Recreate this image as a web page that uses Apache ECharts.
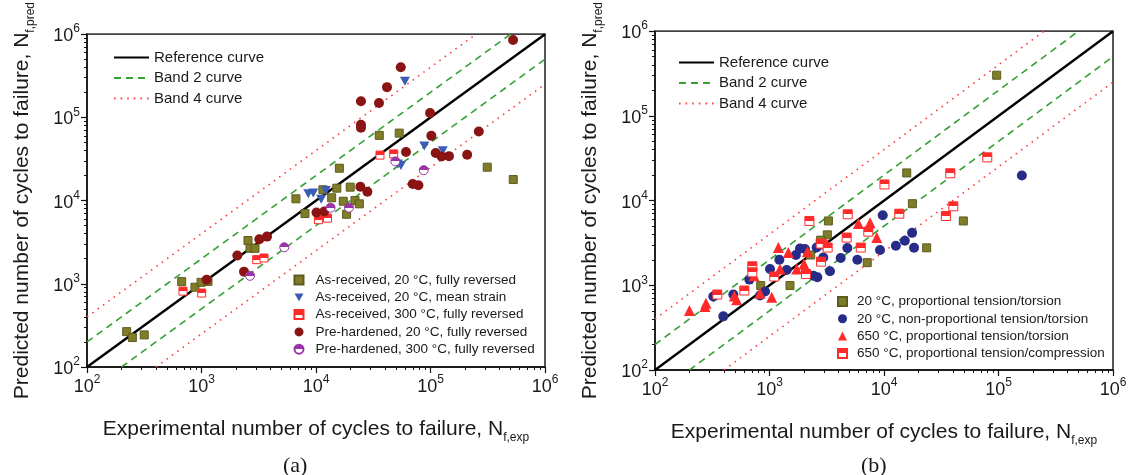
<!DOCTYPE html>
<html><head><meta charset="utf-8">
<script src="https://cdn.jsdelivr.net/npm/echarts@6/dist/echarts.min.js"></script>
<style>html,body{margin:0;padding:0;background:#fff}#c{width:1133px;height:475px}</style>
</head><body><div id="c"></div>
<script>
// ---------- data ----------
const majorTicks = [1e2, 1e3, 1e4, 1e5, 1e6];
const minorTicks = [200,300,400,500,600,700,800,900,2000,3000,4000,5000,6000,7000,8000,9000,20000,30000,40000,50000,60000,70000,80000,90000,200000,300000,400000,500000,600000,700000,800000,900000];

const refCurve = [[1e2, 1e2], [1e6, 1e6]];
const band2Upper = [[1e2, 2e2], [5e5, 1e6]];
const band2Lower = [[2e2, 1e2], [1e6, 5e5]];
const band4Upper = [[1e2, 4e2], [2.5e5, 1e6]];
const band4Lower = [[4e2, 1e2], [1e6, 2.5e5]];

// (a)
const aAsRec20 = [[222,266],[249,226],[316,243],[671,1062],[877,910],[991,1042],[1140,1069],[2546,3311],[2653,2672],[2933,2672],[35700,60800],[53300,64700],[16000,24500],[313000,25200],[528000,17900],[6680,10500],[8010,6980],[13700,10800],[11500,13500],[15200,14100],[19900,14500],[17300,9820],[21900,10000],[23900,9140],[18500,6850]];
const aAsRec20Mean = [[59800,272000],[88300,45200],[128000,39800],[55200,26400],[52000,27500],[8570,12100],[9470,12300],[12200,13200],[11100,10400]];
const aAsRec300 = [[689,817],[1004,774],[3034,1950],[3516,2042],[36200,35200],[47700,36400],[10500,5890],[12600,6160]];
const aPre20 = [[1109,1119],[2055,2193],[3199,3436],[3733,3690],[2351,1400],[526000,851000],[55000,400000],[41700,231000],[24700,156000],[35500,149000],[24700,81700],[24700,75300],[99100,113000],[101700,60300],[61100,38400],[111000,37400],[125000,33900],[145000,34200],[209000,35500],[264000,67600],[24400,14700],[28100,12800],[70000,15800],[78400,15300],[10100,7180],[11800,7380]];
const aPre300 = [[2655,1248],[5284,2748],[49300,29600],[87300,23200],[13400,8220],[19400,8220]];

// (b)
const b20Prop = [[96400,302000],[15800,21200],[17700,9190],[49300,5750],[3270,5750],[3200,3940],[2800,3410],[2290,2280],[838,993],[1510,993],[7140,1850],[23600,2770]];
const b20NonProp = [[160000,19800],[9750,6700],[395,430],[323,738],[483,778],[667,1167],[826,759],[914,845],[1010,1560],[1220,2000],[1413,1516],[1700,2280],[1845,2720],[2040,2680],[2415,1300],[2615,1244],[2580,2790],[2950,2130],[3375,1462],[4185,2100],[4785,2750],[5850,2000],[9230,2610],[12700,2930],[15200,3350],[17600,4160],[18300,2770]];
const b650Torsion = [[200,505],[273,563],[279,615],[493,745],[517,675],[826,807],[1045,725],[733,1300],[1195,2790],[1460,2440],[1235,1560],[1727,1560],[2000,1783],[2140,2490],[3160,3060],[5970,5350],[7560,5490],[8640,3660]];
const b650Compr = [[10100,15500],[37900,21000],[79800,32400],[13600,7000],[40300,8550],[34700,6580],[350,778],[603,867],[708,1676],[708,1423],[1100,1268],[2230,5750],[2083,1361],[2800,3110],[2820,1900],[3220,2790],[4820,6890],[4720,3660],[6270,2790],[7290,4300]];

const N_REF = 'Reference curve', N_B2 = 'Band 2 curve', N_B4 = 'Band 4 curve';
const aNames = ['As-received, 20 \u00B0C, fully reversed','As-received, 20 \u00B0C, mean strain','As-received, 300 \u00B0C, fully reversed','Pre-hardened, 20 \u00B0C, fully reversed','Pre-hardened, 300 \u00B0C, fully reversed'];
const bNames = ['20 \u00B0C, proportional tension/torsion','20 \u00B0C, non-proportional tension/torsion','650 \u00B0C, proportional tension/torsion','650 \u00B0C, proportional tension/compression'];

// ---------- styles ----------
const FONT = 'Liberation Sans, Arial, sans-serif';
const OLIVE = '#7f7d2a', BLUE = '#3a5cb4', RED = '#ff2a2a', DARKRED = '#8a1414', PURPLE = '#9a35a6', NAVY = '#272c88';
const DOWN_TRI = 'path://M0,0L10,0L5,8.66Z';
function halfFill(c) {
  return {type:'linear', x:0, y:0, x2:0, y2:1, colorStops:[
    {offset:0, color:c},{offset:0.5, color:c},{offset:0.5, color:'#ffffff'},{offset:1, color:'#ffffff'}]};
}
const grids = [
  {left:87, top:25, width:458, height:342},
  {left:655, top:29, width:458, height:341}
];
const tickLabel = {
  customValues: majorTicks,
  margin: 7,
  formatter: v => '{b|10}{s|' + Math.round(Math.log10(v)) + '}',
  rich: {
    b: {fontSize:18, fontFamily:FONT, color:'#1a1a1a', lineHeight:22, verticalAlign:'bottom'},
    s: {fontSize:12, fontFamily:FONT, color:'#1a1a1a', lineHeight:12, verticalAlign:'top'}
  }
};
const nameStyle = {fontSize:21, fontFamily:FONT, color:'#1a1a1a', lineHeight:30,
  rich:{sub:{fontSize:12, fontFamily:FONT, color:'#1a1a1a', lineHeight:12, verticalAlign:'bottom'}}};

function majorAxis(gi, isX) {
  const ax = {
    type:'log', logBase:10, gridIndex:gi, min:1e2, max:1e6,
    axisLine:{show:true, lineStyle:{color:'#111', width:1.5}},
    axisTick:{show:true, customValues:majorTicks, length:6, lineStyle:{color:'#111', width:1.2}},
    axisLabel:tickLabel,
    splitLine:{show:false}, minorTick:{show:false}, minorSplitLine:{show:false},
    nameLocation:'middle'
  };
  if (isX) {
    ax.position = 'bottom';
    ax.name = 'Experimental number of cycles to failure, N{sub|f,exp}';
    ax.nameGap = 47;
    ax.nameTextStyle = nameStyle;
  } else {
    ax.position = 'left';
    ax.name = 'Predicted number of cycles to failure, N{sub|f,pred}';
    ax.nameRotate = 90;
    ax.nameGap = 50;
    ax.nameTextStyle = nameStyle;
  }
  return ax;
}
function minorAxis(gi, isX) {
  return {
    type:'log', logBase:10, gridIndex:gi, min:1e2, max:1e6,
    position: isX ? 'bottom' : 'left',
    axisLine:{show:false},
    axisTick:{show:true, customValues:minorTicks, length:3, lineStyle:{color:'#111', width:1}},
    axisLabel:{show:false}, splitLine:{show:false}
  };
}

function lineSeries(name, data, xi, color, width, dash) {
  return {
    name, type:'line', data, xAxisIndex:xi, yAxisIndex:xi, symbol:'none', silent:true, z:2,
    lineStyle:{color, width, type:dash}, itemStyle:{color}
  };
}
function scatter(name, data, xi, symbol, size, color, border, extra) {
  return Object.assign({
    name, type:'scatter', data, xAxisIndex:xi, yAxisIndex:xi, symbol, symbolSize:size, z:5,
    itemStyle:{color, borderColor:border || color, borderWidth:border ? 1 : 0, opacity:1}
  }, extra || {});
}

const series = [];
[0, 2].forEach(xi => {
  series.push(lineSeries(N_B4, band4Upper, xi, '#ff4040', 1.6, [1.6, 5]));
  series.push(lineSeries(N_B4, band4Lower, xi, '#ff4040', 1.6, [1.6, 5]));
  series.push(lineSeries(N_B2, band2Upper, xi, '#33a133', 1.6, [7, 5]));
  series.push(lineSeries(N_B2, band2Lower, xi, '#33a133', 1.6, [7, 5]));
  series.push(lineSeries(N_REF, refCurve, xi, '#000000', 2.4, 'solid'));
});
series.push(scatter(aNames[0], aAsRec20, 0, 'rect', 8, OLIVE, '#5e5c1c'));
series.push(scatter(aNames[1], aAsRec20Mean, 0, DOWN_TRI, [10, 9], BLUE));
series.push(scatter(aNames[2], aAsRec300, 0, 'rect', 8, halfFill(RED), RED));
series.push(scatter(aNames[3], aPre20, 0, 'circle', 10, DARKRED));
series.push(scatter(aNames[4], aPre300, 0, 'circle', 9, halfFill(PURPLE), PURPLE));

series.push(scatter(bNames[0], b20Prop, 2, 'rect', 8, OLIVE, '#5e5c1c'));
series.push(scatter(bNames[1], b20NonProp, 2, 'circle', 10, NAVY));
series.push(scatter(bNames[2], b650Torsion, 2, 'triangle', 11, RED));
series.push(scatter(bNames[3], b650Compr, 2, 'rect', 9, halfFill(RED), RED));

const lineLegendBase = {
  orient:'vertical', itemWidth:35, itemHeight:14, itemGap:5.5, padding:0, selectedMode:false,
  itemStyle:{opacity:0},
  textStyle:{fontSize:15, fontFamily:FONT, color:'#1a1a1a'}, data:[N_REF, N_B2, N_B4]
};
const markLegendBase = {
  orient:'vertical', itemWidth:9, itemHeight:9, itemGap:3.3, padding:0, selectedMode:false,
  textStyle:{fontSize:13.5, fontFamily:FONT, color:'#1a1a1a', padding:[0,0,0,7]}
};

const option = {
  backgroundColor:'#ffffff',
  animation:false,
  grid: grids.map(g => Object.assign({show:true, borderColor:'#444', borderWidth:1.8, backgroundColor:'transparent'}, g)),
  xAxis:[majorAxis(0, true), minorAxis(0, true), majorAxis(1, true), minorAxis(1, true)],
  yAxis:[majorAxis(0, false), minorAxis(0, false), majorAxis(1, false), minorAxis(1, false)],
  legend:[
    Object.assign({left:113, top:50}, lineLegendBase),
    Object.assign({left:678, top:55, itemGap:5}, lineLegendBase),
    Object.assign({left:293.5, top:273, data:aNames}, markLegendBase),
    Object.assign({left:837, top:294.5, data:bNames, textStyle:Object.assign({}, markLegendBase.textStyle, {padding:[0,0,0,5]})}, markLegendBase.orient ? {orient:'vertical', itemWidth:9, itemHeight:9, itemGap:3.3, padding:0, selectedMode:false} : {})
  ],
  graphic:[
    {type:'text', left:283, top:455, style:{text:'(a)', font:'22px "Liberation Serif", "Times New Roman", serif', fill:'#1a1a1a'}},
    {type:'text', left:861, top:455, style:{text:'(b)', font:'22px "Liberation Serif", "Times New Roman", serif', fill:'#1a1a1a'}}
  ],
  series
};
const chart = echarts.init(document.getElementById('c'), null, {renderer:'canvas'});
chart.setOption(option);
</script></body></html>
